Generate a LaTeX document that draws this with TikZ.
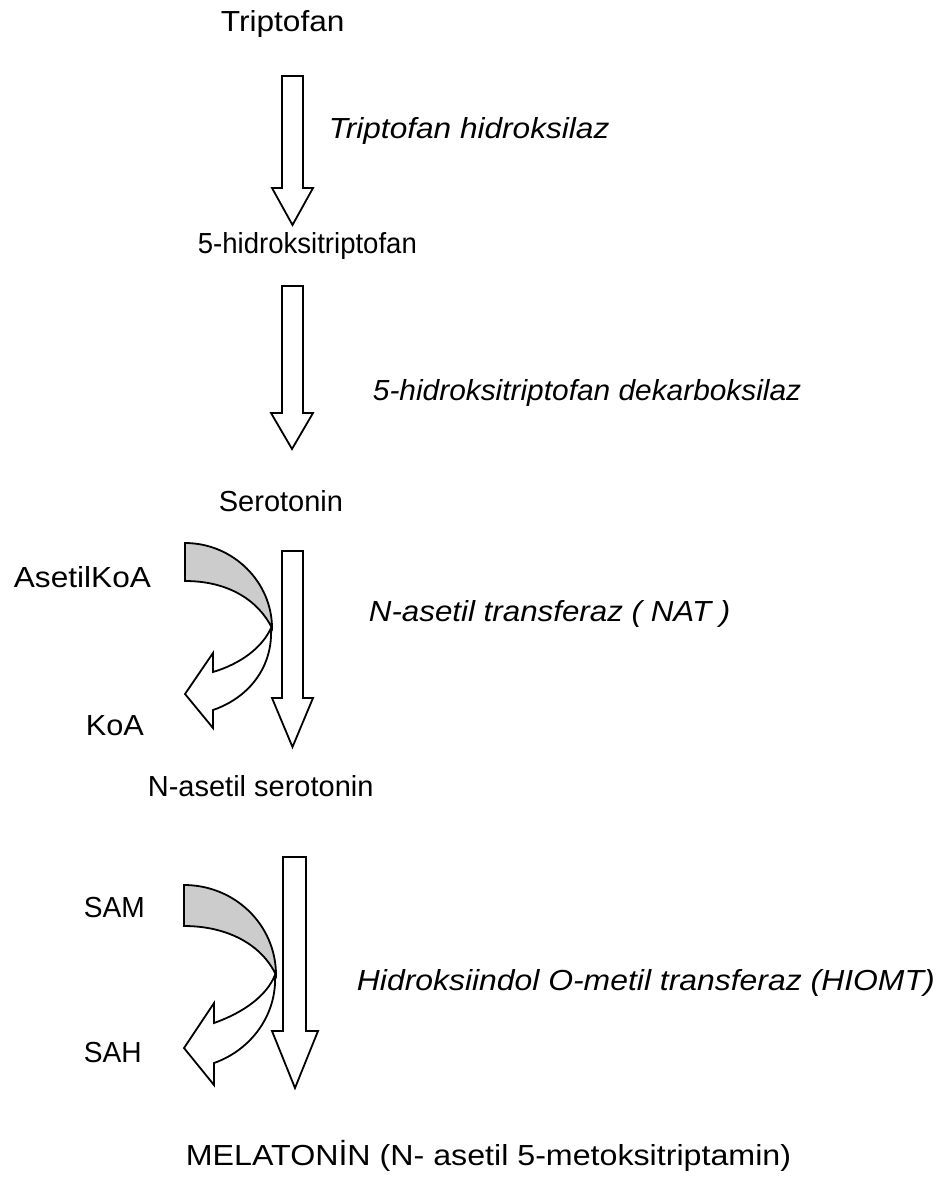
\documentclass[tikz,border=0pt]{standalone}
\usepackage{fontspec}
\setmainfont{Liberation Sans}
\newcommand\hsc[2]{\scalebox{#1}[1]{#2}}
\newcommand\dnblock[7]{%
  \draw[blk] (#1,#3) -- (#2,#3) -- (#2,#4) -- (#6,#4) -- ({(#5+#6)/2},#7) -- (#5,#4) -- (#1,#4) -- cycle;}
\begin{document}
\begin{tikzpicture}[x=1pt,y=-1pt,line width=1.8pt,
  lbl/.style={inner sep=0pt,anchor=base west,font=\fontsize{29}{34}\selectfont},
  enz/.style={inner sep=0pt,anchor=base west,font=\fontsize{29}{34}\selectfont\itshape},
  blk/.style={draw=black,fill=white,line join=miter},
  band/.style={draw=black,fill=gray!40,line join=miter}]
\useasboundingbox (0,0) rectangle (945,1182);
\fill[white] (0,0) rectangle (945,1182);

% labels
\node[lbl] (trp) at (220,32) {\hsc{1.09}{Triptofan}};
\node[enz] (e1) at (328,139) {\hsc{1.09}{Triptofan hidroksilaz}};
\node[lbl] (htp) at (197,253) {\hsc{0.95}{5-hidroksitriptofan}};
\node[enz] (e2) at (372,400) {\hsc{1.03}{5-hidroksitriptofan dekarboksilaz}};
\node[lbl] (ser) at (218,511) {\hsc{1.0}{Serotonin}};
\node[lbl] (acoa) at (13,587) {\hsc{1.09}{AsetilKoA}};
\node[enz] (e3) at (368,621) {\hsc{1.08}{N-asetil transferaz ( NAT )}};
\node[lbl] (koa) at (85,735) {\hsc{1.06}{KoA}};
\node[lbl] (nas) at (147,796) {\hsc{1.0}{N-asetil serotonin}};
\node[lbl] (sam) at (83,917) {\hsc{0.97}{SAM}};
\node[enz] (e4) at (356,990) {\hsc{1.10}{Hidroksiindol O-metil transferaz (HIOMT)}};
\node[lbl] (sah) at (83,1062) {\hsc{0.97}{SAH}};
\node[lbl] (mel) at (185,1165) {\hsc{1.11}{MELATONİN (N- asetil 5-metoksitriptamin)}};

% straight block arrows
\dnblock{282}{303}{76}{188}{272}{313}{225}
\dnblock{282}{303}{286}{413}{271}{313}{449}
\dnblock{282}{303}{551}{698}{272}{313}{747}
\dnblock{283}{306}{857}{1031}{272}{318}{1088}

% curved arrow 1 (AsetilKoA -> KoA)
\draw[blk] (271,628) .. controls (273,668) and (248,698) .. (213,710)
  -- (213,728) -- (185,694) -- (213,653) -- (213,672)
  .. controls (240,664) and (262,648) .. (271,628) -- cycle;
\draw[band] (185,543) .. controls (233,543) and (272,582) .. (272,628)
  .. controls (258,600) and (228,581) .. (185,581) -- cycle;

% curved arrow 2 (SAM -> SAH)
\draw[blk] (275,975) .. controls (277,1015) and (251,1050) .. (214,1063)
  -- (214,1085) -- (184,1048) -- (214,1003) -- (214,1023)
  .. controls (245,1012) and (267,995) .. (275,975) -- cycle;
\draw[band] (184,885) .. controls (235,885) and (276,925) .. (276,975)
  .. controls (262,945) and (228,926) .. (184,926) -- cycle;
\end{tikzpicture}
\end{document}
